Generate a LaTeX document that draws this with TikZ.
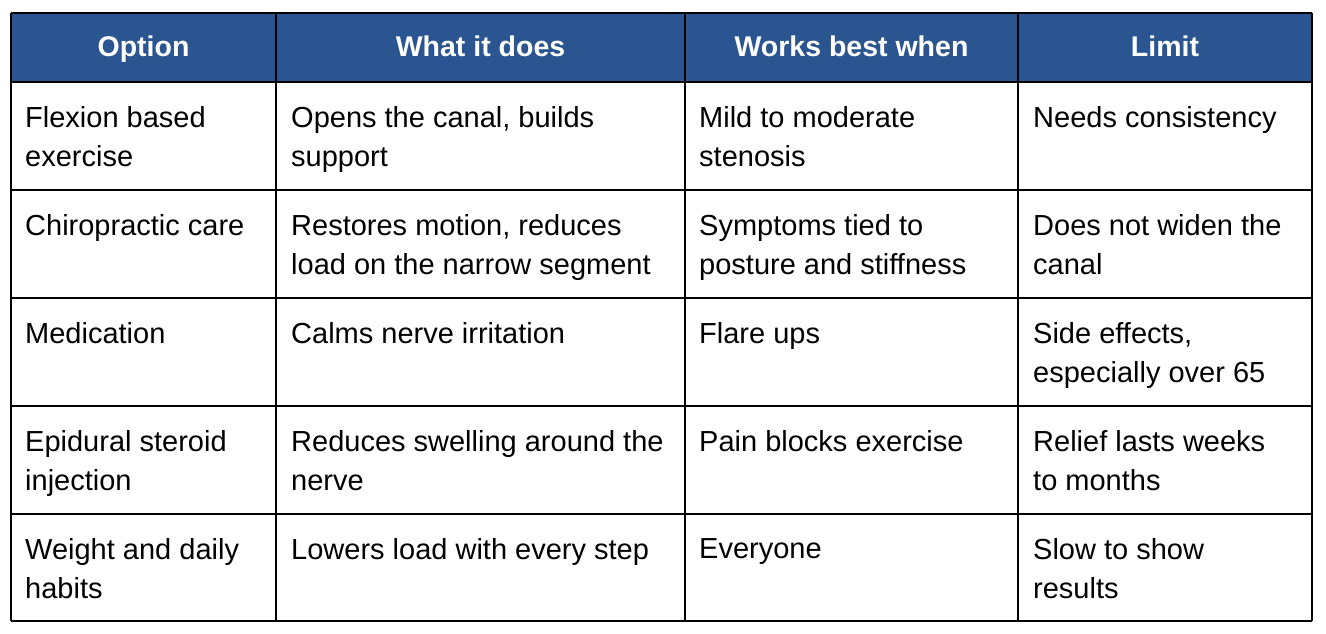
\documentclass[tikz,border=0pt]{standalone}
\usepackage{fontspec}
\setmainfont{Liberation Sans}
\definecolor{hdr}{HTML}{2A5590}
\begin{document}
\begin{tikzpicture}[x=1pt,y=-1pt,
  cell/.style={anchor=north west,inner sep=0pt,align=left,font=\fontsize{29}{39}\selectfont},
  head/.style={anchor=base,inner sep=0pt,text=white,font=\bfseries\fontsize{28.5}{39}\selectfont},
  grid/.style={line width=1.3pt,black}]
\useasboundingbox (0,0) rectangle (1326,634);
\fill[hdr] (11,13) rectangle (1312,82);
\foreach \x in {11,276,685,1018,1312} \draw[grid] (\x,13) -- (\x,621);
\foreach \y in {13,82,190,298,406,514,621} \draw[grid] (11,\y) -- (1312,\y);
\node[head] (h1) at (143.5,57) {Option};
\node[head] (h2) at (480.5,57) {What it does};
\node[head] (h3) at (851.5,57) {Works best when};
\node[head] (h4) at (1165,57) {Limit};
\foreach \r/\y/\a/\b/\c/\d in {
 1/106/{Flexion based\\exercise}/{Opens the canal, builds\\support}/{Mild to moderate\\stenosis}/{Needs consistency},
 2/214/{Chiropractic care}/{Restores motion, reduces\\load on the narrow segment}/{Symptoms tied to\\posture and stiffness}/{Does not widen the\\canal},
 3/322/{Medication}/{Calms nerve irritation}/{Flare ups}/{Side effects,\\especially over 65},
 4/430/{Epidural steroid\\injection}/{Reduces swelling around the\\nerve}/{Pain blocks exercise}/{Relief lasts weeks\\to months},
 5/538/{Weight and daily\\habits}/{Lowers load with every step}/{Everyone}/{Slow to show\\results}} {
  \node[cell] (a\r) at (25,\y) {\a};
  \node[cell] (b\r) at (291,\y) {\b};
  \node[cell] (c\r) at (699,\y) {\c};
  \node[cell] (d\r) at (1033,\y) {\d};
}
\end{tikzpicture}
\end{document}
